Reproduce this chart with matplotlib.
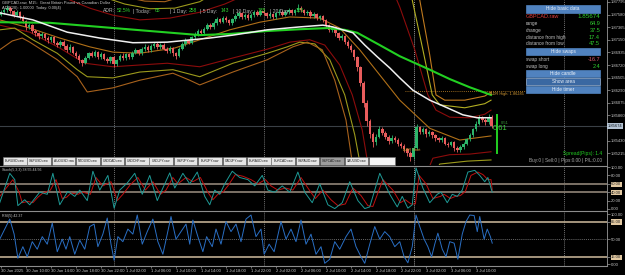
import numpy as np
import matplotlib
matplotlib.use("Agg")
import matplotlib.pyplot as plt
from matplotlib.patches import Rectangle
from matplotlib.lines import Line2D

W, H = 625, 275
plt.rcParams['font.family'] = ['Liberation Sans', 'DejaVu Sans']

# ---------------- data ----------------
# time axis: hours counted from 30 Jun 2025 00:00, bars of 30 minutes from 06:00
first_hour = 6.0
bar_hours = 0.5
first_open = 1.8758
close = [1.8762,1.8766,1.8770,1.8764,1.8758,1.8762,1.8754,1.8747,1.8736,1.8740,
         1.8730,1.8726,1.8721,1.8725,1.8718,1.8714,1.8719,1.8710,1.8706,1.8712,
         1.8704,1.8698,1.8703,1.8693,1.8688,1.8680,1.8676,1.8684,1.8692,1.8688,
         1.8694,1.8686,1.8690,1.8683,1.8679,1.8685,1.8674,1.8680,1.8688,1.8684,
         1.8690,1.8686,1.8693,1.8697,1.8692,1.8699,1.8703,1.8698,1.8704,1.8708,
         1.8702,1.8706,1.8700,1.8696,1.8701,1.8692,1.8688,1.8700,1.8708,1.8714,
         1.8710,1.8719,1.8724,1.8730,1.8726,1.8734,1.8740,1.8736,1.8744,1.8750,
         1.8746,1.8753,1.8749,1.8744,1.8750,1.8756,1.8760,1.8754,1.8758,1.8752,
         1.8757,1.8762,1.8758,1.8764,1.8760,1.8755,1.8759,1.8754,1.8760,1.8763,
         1.8758,1.8762,1.8766,1.8761,1.8765,1.8770,1.8766,1.8760,1.8763,1.8756,
         1.8759,1.8752,1.8755,1.8748,1.8740,1.8732,1.8736,1.8726,1.8718,1.8722,
         1.8712,1.8705,1.8698,1.8686,1.8668,1.8642,1.8608,1.8576,1.8555,1.8540,
         1.8550,1.8562,1.8556,1.8550,1.8542,1.8548,1.8544,1.8538,1.8534,1.8528,
         1.8522,1.8515,1.8530,1.8566,1.8558,1.8562,1.8554,1.8558,1.8552,1.8547,
         1.8544,1.8548,1.8538,1.8536,1.8540,1.8530,1.8527,1.8532,1.8538,1.8545,
         1.8553,1.8562,1.8572,1.8582,1.8578,1.8574,1.8584,1.85674]
high = [1.8766,1.8769,1.8774,1.8773,1.8766,1.8765,1.8764,1.8757,1.8749,1.8743,
        1.8742,1.8733,1.8729,1.8728,1.8727,1.8721,1.8722,1.8721,1.8713,1.8715,
        1.8714,1.8707,1.8707,1.8705,1.8696,1.8690,1.8683,1.8687,1.8695,1.8696,
        1.8698,1.8696,1.8694,1.8692,1.8686,1.8688,1.8687,1.8683,1.8691,1.8692,
        1.8693,1.8693,1.8696,1.8701,1.8700,1.8702,1.8707,1.8706,1.8707,1.8712,
        1.8711,1.8709,1.8709,1.8703,1.8704,1.8703,1.8695,1.8703,1.8711,1.8718,
        1.8717,1.8722,1.8728,1.8733,1.8734,1.8737,1.8744,1.8743,1.8747,1.8754,
        1.8753,1.8756,1.8756,1.8751,1.8753,1.8759,1.8764,1.8762,1.8761,1.8760,
        1.8760,1.8766,1.8765,1.8768,1.8767,1.8762,1.8762,1.8761,1.8763,1.8767,
        1.8765,1.8765,1.8770,1.8768,1.8768,1.8776,1.8773,1.8768,1.8766,1.8765,
        1.8762,1.8761,1.8758,1.8757,1.8750,1.8742,1.8739,1.8738,1.8728,1.8725,
        1.8724,1.8714,1.8707,1.8700,1.8688,1.8670,1.8644,1.8612,1.8580,1.8558,
        1.8554,1.8568,1.8566,1.8560,1.8553,1.8552,1.8551,1.8547,1.8541,1.8537,
        1.8531,1.8525,1.8534,1.8572,1.8568,1.8566,1.8564,1.8561,1.8560,1.8555,
        1.8550,1.8551,1.8550,1.8541,1.8543,1.8542,1.8533,1.8535,1.8541,1.8548,
        1.8556,1.8565,1.8576,1.8586,1.8585,1.8581,1.8588,1.8586]
low = [1.8755,1.8759,1.8763,1.8761,1.8754,1.8755,1.8750,1.8744,1.8732,1.8733,
       1.8727,1.8722,1.8717,1.8718,1.8715,1.8710,1.8711,1.8707,1.8702,1.8703,
       1.8700,1.8694,1.8695,1.8690,1.8684,1.8676,1.8670,1.8673,1.8682,1.8685,
       1.8685,1.8683,1.8683,1.8680,1.8675,1.8676,1.8668,1.8671,1.8678,1.8681,
       1.8681,1.8683,1.8683,1.8690,1.8689,1.8689,1.8696,1.8695,1.8695,1.8701,
       1.8699,1.8699,1.8697,1.8692,1.8693,1.8688,1.8682,1.8685,1.8697,1.8705,
       1.8707,1.8707,1.8716,1.8721,1.8723,1.8723,1.8731,1.8733,1.8733,1.8741,
       1.8743,1.8743,1.8746,1.8740,1.8741,1.8747,1.8753,1.8751,1.8751,1.8749,
       1.8749,1.8754,1.8755,1.8755,1.8757,1.8752,1.8752,1.8751,1.8751,1.8757,
       1.8755,1.8755,1.8759,1.8758,1.8758,1.8762,1.8763,1.8757,1.8757,1.8753,
       1.8753,1.8749,1.8749,1.8745,1.8736,1.8728,1.8729,1.8722,1.8714,1.8715,
       1.8708,1.8701,1.8694,1.8681,1.8662,1.8636,1.8600,1.8568,1.8548,1.8532,
       1.8536,1.8547,1.8552,1.8546,1.8538,1.8539,1.8540,1.8534,1.8530,1.8524,
       1.8517,1.8508,1.8512,1.8528,1.8554,1.8555,1.8550,1.8551,1.8548,1.8543,
       1.8540,1.8541,1.8535,1.8532,1.8533,1.8526,1.8523,1.8524,1.8529,1.8535,
       1.8542,1.8550,1.8560,1.8569,1.8575,1.8570,1.8571,1.8564]
current_price = 1.85674

white_t = [5.8,11.1,16.6,21.8,27.1,32.6,39.4,43.1,48.6,53.8,57.5,59.1,62.3,64.2,66.2,68.2,69.8,71.9,74.6,77.4,79.9,82.2,84.4]
white_p = [1.8761,1.8749,1.8728,1.8718,1.8710,1.8711,1.8718,1.8723,1.8732,1.8737,1.8740,1.8737,1.8727,1.8706,1.8686,1.8667,1.8650,1.8629,1.8612,1.8599,1.8587,1.8582,1.8582]
green_t = [5.8,13.8,21.8,29.8,37.8,42.6,48.6,53.8,58.2,61.0,63.0,66.6,69.8,74.6,77.8,81.0,84.4]
green_p = [1.8745,1.8744,1.8737,1.8730,1.8723,1.8725,1.8730,1.8733,1.8735,1.8732,1.8727,1.8706,1.8687,1.8664,1.8648,1.8634,1.8621]
mid_t = [5.8,10.6,15.4,20.2,23.9,28.2,33.8,37.8,42.6,47.4,52.2,57.0,60.2,63.4,66.6,69.8,74.6,79.4,84.4]
mid_p = [1.8749,1.8735,1.8718,1.8703,1.8694,1.8692,1.8701,1.8715,1.8732,1.8745,1.8754,1.8752,1.8735,1.8698,1.8655,1.8612,1.8564,1.8544,1.8551]

red_low_a_t = [5.8,10.6,15.4,19.4,23.9,28.2,32.6,37.8,43.1,48.6,52.2,55.4,57.8,60.2,62.2,63.8,65.0]
red_low_a_p = [1.8740,1.8728,1.8701,1.8675,1.8669,1.8672,1.8675,1.8669,1.8684,1.8699,1.8711,1.8715,1.8706,1.8672,1.8621,1.8561,1.8484]
red_low_b_t = [73.8,75.1,77.8,81.0,84.4]
red_low_b_p = [1.8479,1.8513,1.8519,1.8520,1.8524]
olive_low_a_t = [5.8,8.2,11.1,15.0,18.2,19.8,23.9,28.2,33.5,37.8,43.1,48.6,51.8,53.8,56.2,58.6,61.0,62.6,63.8]
olive_low_a_p = [1.8732,1.8735,1.8715,1.8692,1.8664,1.8652,1.8650,1.8660,1.8664,1.8652,1.8675,1.8692,1.8703,1.8711,1.8708,1.8681,1.8621,1.8553,1.8484]
olive_low_b_t = [75.0,76.2,80.6,84.4]
olive_low_b_p = [1.8479,1.8503,1.8508,1.8510]
orange_low_t = [5.8,7.8,9.4,10.6,15.0,18.2,19.8,23.9,28.2,33.5,36.2,37.8,43.1,48.6,52.7,55.0,57.4,59.4,61.2,62.5]
orange_low_p = [1.8698,1.8713,1.8718,1.8711,1.8681,1.8652,1.8626,1.8633,1.8646,1.8658,1.8646,1.8638,1.8660,1.8681,1.8703,1.8711,1.8698,1.8646,1.8578,1.8484]

red_up_a_t = [15.4,20.2,23.9,28.2,33.0,37.8,41.8,45.0]
red_up_a_p = [1.8790,1.8769,1.8757,1.8749,1.8752,1.8762,1.8776,1.8791]
red_up_b_t = [69.0,69.8,72.2,74.3,75.6,77.8,81.0,83.4,84.4]
red_up_b_p = [1.8791,1.8771,1.8698,1.8621,1.8595,1.8583,1.8582,1.8588,1.8595]
olive_up_a_t = [21.8,25.8,29.8,33.8,37.8,39.4]
olive_up_a_p = [1.8790,1.8776,1.8768,1.8769,1.8780,1.8790]
olive_up_b_t = [71.4,71.8,73.5,75.0,76.2,80.2,83.4,84.4]
olive_up_b_p = [1.8791,1.8783,1.8698,1.8621,1.8604,1.8599,1.8606,1.8612]
orange_up_a_t = [25.0,29.0,32.2,35.4]
orange_up_a_p = [1.8790,1.8781,1.8780,1.8790]
orange_up_b_t = [72.7,73.0,74.6,75.6,77.0,80.2,83.4,84.4]
orange_up_b_p = [1.8791,1.8783,1.8689,1.8621,1.8612,1.8612,1.8619,1.8626]

adr_high = 1.86285
adr_line_t = [70.6, 89.8]
timer_bar_t = 85.4
timer_bar_p = [1.8522, 1.8587]

stoch_t = [5.8,7.4,8.2,8.7,9.8,10.6,11.4,12.2,13.4,14.3,15.4,16.0,16.7,17.8,18.6,19.8,20.7,21.8,23.1,24.1,
           25.0,26.2,27.4,28.6,29.8,31.0,31.9,33.0,33.8,35.1,36.2,37.4,38.6,39.4,40.2,41.0,41.8,43.0,44.2,45.5,
           46.6,47.8,48.7,49.8,51.0,52.2,53.5,54.6,55.8,57.0,58.3,59.4,60.6,61.8,63.1,64.2,65.0,66.6,68.2,69.4,
           70.2,71.1,71.8,72.4,73.5,74.6,75.8,76.4,77.4,78.2,79.0,79.8,80.7,81.8,82.6,83.4,83.9,84.6]
stoch_k = [15,85,70,8,22,10,25,40,35,85,10,25,42,30,45,20,90,45,80,2,
           45,62,85,35,80,20,50,86,50,85,60,88,30,10,45,35,60,90,75,70,
           55,80,45,40,55,40,88,40,15,60,10,1,15,65,20,1,5,85,35,5,
           30,2,10,98,50,15,35,40,15,35,30,45,88,92,80,65,75,40]
sig_t = [5.8,7.9,8.9,9.4,10.3,11.1,11.9,12.7,13.9,14.8,15.8,16.5,17.2,18.3,19.1,20.3,21.2,22.3,23.6,24.6,
         25.5,26.7,27.9,29.1,30.3,31.5,32.4,33.5,34.3,35.6,36.7,37.9,39.1,39.9,40.7,41.5,42.3,43.5,44.7,46.0,
         47.1,48.3,49.2,50.3,51.5,52.7,54.0,55.1,56.3,57.5,58.8,59.9,61.1,62.3,63.6,64.7,65.5,67.1,68.7,69.9,
         70.7,71.6,72.3,72.9,74.0,75.1,76.3,76.9,77.9,78.7,79.5,80.3,81.2,82.3,83.1,83.9,84.4,84.6]
sig_d = [30,70,40,15,18,15,28,38,45,70,25,28,38,35,40,35,75,55,65,20,
         35,58,75,45,65,35,45,75,60,75,65,75,40,22,35,40,55,82,78,70,
         60,70,55,45,50,45,75,50,25,45,22,8,12,50,32,8,6,70,45,15,
         22,12,12,80,60,25,30,35,25,30,32,42,80,88,82,70,70,45]
rsi_t = [5.8,6.6,7.4,8.1,8.7,9.5,10.2,11.0,11.8,12.6,13.4,14.2,15.0,15.8,16.4,17.0,17.8,18.6,19.4,20.2,
         20.9,21.5,22.3,23.0,23.6,24.1,24.7,25.5,26.3,27.1,27.8,28.6,29.4,30.3,31.1,31.9,32.6,33.2,34.0,34.8,
         35.6,36.2,36.7,37.5,38.3,38.9,39.8,40.4,41.2,42.0,42.8,43.6,44.4,45.2,46.0,46.8,47.6,48.1,48.9,49.7,
         50.8,51.6,52.4,53.2,54.0,54.8,55.6,56.4,57.2,57.8,58.6,59.4,60.2,61.2,62.0,62.8,63.6,64.2,65.0,65.8,
         66.6,67.4,68.2,69.0,69.8,70.5,71.1,71.8,72.4,73.0,73.7,74.3,74.9,75.4,75.9,76.6,77.2,77.8,78.5,79.1,
         79.8,80.4,81.0,81.7,82.2,82.6,83.3,83.8,84.3,84.6]
rsi_v = [50,70,90,60,12,35,15,45,30,55,40,82,25,50,30,55,20,48,30,75,
         80,35,60,92,40,8,55,45,70,60,98,40,65,90,45,20,60,95,50,65,
         80,40,88,55,25,55,35,70,40,85,65,80,45,90,98,55,70,20,40,25,
         85,50,70,45,88,40,60,20,35,2,10,45,30,55,70,35,15,2,40,75,
         50,65,55,35,45,15,3,35,98,75,50,35,15,40,62,30,15,45,42,10,
         60,85,98,97,65,95,50,70,55,42]

day_separators = [24, 48, 72, 96]
price_ticks = [1.87795,1.87580,1.87365,1.87150,1.86935,1.86720,1.86505,1.86290,1.86075,1.85860,1.85430,1.85215]
stoch_ticks = [100, 80, 60, 40, 20, 0]
stoch_levels = [60, 40]
rsi_ticks = [100, 85, 50, 15, 0]
rsi_levels = [85, 15]
time_ticks = [6,10,14,18,22,26,30,34,38,42,46,50,54,58,62,66,70,74,78,82]
time_labels = ["30 Jun 2025","30 Jun 10:00","30 Jun 14:00","30 Jun 18:00","30 Jun 22:00",
               "1 Jul 02:00","1 Jul 06:00","1 Jul 10:00","1 Jul 14:00","1 Jul 18:00","1 Jul 22:00",
               "2 Jul 02:00","2 Jul 06:00","2 Jul 10:00","2 Jul 14:00","2 Jul 18:00","2 Jul 22:00",
               "3 Jul 02:00","3 Jul 06:00","3 Jul 10:00"]

symbol = "GBPCAD.raw"
bid_text = "1.85674"
info_labels = ["range", "change", "distance from high", "distance from low"]
info_values = ["64.9", "37.5", "17.4", "47.5"]
swap_labels = ["swap short", "swap long"]
swap_values = ["-16.7", "2.4"]
adr_stat_labels = ["ADR:", "| Today:", "| 1 Day:", "| 5 Day:", "| 10 Day:", "| 20 Day:"]
adr_stat_values = ["52.5%", "65", "258", "143", "135", "135"]
tab_names = ["EURUSD.raw","GBPUSD.raw","AUDUSD.raw","NZDUSD.raw","USDCAD.raw","USDCHF.raw","USDJPY.raw",
             "GBPJPY.raw","EURJPY.raw","CADJPY.raw","EURAUD.raw","EURCAD.raw","GBPAUD.raw","GBPCAD.raw","XAUUSD.raw"]

# ---------------- figure ----------------
fig = plt.figure(figsize=(W / 100, H / 100), dpi=100, facecolor='black')
GRID = '#9a9a9a'
LBL = '#c8c8c8'


def fx(x):
    return x / W


def fy(y):
    return 1 - y / H


def add_panel(top, bottom):
    ax = fig.add_axes([0, 1 - bottom / H, 607 / W, (bottom - top) / H])
    ax.set_facecolor('black')
    ax.set_xlim(5.84, 102.96)
    for s in ('left', 'top', 'bottom'):
        ax.spines[s].set_visible(False)
    ax.spines['right'].set_color(GRID)
    ax.spines['right'].set_linewidth(0.6)
    ax.yaxis.tick_right()
    ax.tick_params(axis='y', length=2, width=0.5, color=GRID, labelcolor=LBL, labelsize=3, pad=1)
    ax.tick_params(axis='x', bottom=False, labelbottom=False)
    for d in day_separators:
        sep_col = '#cfcfcf' if d == 72 else '#9a9a9a'
        ax.axvline(d, color=sep_col, lw=0.5, ls=(0, (1.5, 1.5)), zorder=1)
    return ax


main = add_panel(0, 165)
main.set_ylim(1.85014, 1.87829)
stoch = add_panel(166, 210)
stoch.set_ylim(-2.4, 102.4)
rsi = add_panel(211, 266)
rsi.set_ylim(-3.4, 106)

# ---- main chart ----
main.axhline(current_price, color='#3a4046', lw=0.8, zorder=1)
band_w = 0.8
for tt, pp, col in [(red_low_a_t, red_low_a_p, '#8c0c0c'), (red_low_b_t, red_low_b_p, '#8c0c0c'),
                    (olive_low_a_t, olive_low_a_p, '#9c9a1c'), (olive_low_b_t, olive_low_b_p, '#9c9a1c'),
                    (orange_low_t, orange_low_p, '#a8621c'),
                    (red_up_a_t, red_up_a_p, '#8c0c0c'), (red_up_b_t, red_up_b_p, '#8c0c0c'),
                    (olive_up_a_t, olive_up_a_p, '#9c9a1c'), (olive_up_b_t, olive_up_b_p, '#b2ae22'),
                    (orange_up_a_t, orange_up_a_p, '#a8621c'), (orange_up_b_t, orange_up_b_p, '#c07a1e'),
                    (mid_t, mid_p, '#b07018')]:
    main.plot(tt, pp, color=col, lw=band_w, zorder=2)

t = first_hour + bar_hours * np.arange(len(close))
o = np.array([first_open] + close[:-1])
c = np.array(close)
cols = np.where(c >= o, '#2db56a', '#e85c5c')
main.vlines(t, low, high, colors=cols, lw=0.6, zorder=3)
main.bar(t, np.maximum(np.abs(c - o), 0.00004), bottom=np.minimum(o, c), width=0.40,
         color=cols, lw=0, zorder=3)

main.plot(green_t, green_p, color='#22d022', lw=1.5, zorder=4)
main.plot(white_t, white_p, color='#f0f0f0', lw=1.1, zorder=4)

main.plot(adr_line_t, [adr_high, adr_high], color='#c88a28', lw=0.6, ls=(0, (1, 1.5)), zorder=2)
main.plot([timer_bar_t, timer_bar_t], timer_bar_p, color='#22d022', lw=1.4, zorder=5)

main.set_yticks(price_ticks)
main.set_yticklabels(['%.5f' % v for v in price_ticks])

# ---- stochastic ----
for lv in stoch_levels:
    stoch.axhline(lv, color='#857a6e', lw=1.3, zorder=1)
stoch.plot(sig_t, sig_d, color='#c01010', lw=0.7, zorder=3)
stoch.plot(stoch_t, stoch_k, color='#1e9a96', lw=0.7, zorder=4)
stoch.set_yticks(stoch_ticks)
stoch.set_yticklabels(['%.2f' % v for v in stoch_ticks])
for lab, v in zip(stoch.get_yticklabels(), stoch_ticks):
    if v in stoch_levels:
        lab.set_bbox(dict(boxstyle='square,pad=0.15', fc='#e2c9a2', ec='none'))
        lab.set_color('#222222')

# ---- RSI ----
for lv in rsi_levels:
    rsi.axhline(lv, color='#bfae92', lw=1.2, zorder=1)
rsi.axhline(50, color='#8a8a8a', lw=0.5, ls=(0, (1.5, 1.5)), zorder=1)
rsi.plot(rsi_t, rsi_v, color='#2a6fc4', lw=0.7, zorder=3)
rsi.set_yticks(rsi_ticks)
rsi.set_yticklabels(['%.2f' % v for v in rsi_ticks])
for lab, v in zip(rsi.get_yticklabels(), rsi_ticks):
    if v in rsi_levels:
        lab.set_bbox(dict(boxstyle='square,pad=0.15', fc='#e2c9a2', ec='none'))
        lab.set_color('#222222')
rsi.set_xticks(time_ticks)
rsi.set_xticklabels(time_labels, ha='left')
rsi.tick_params(axis='x', bottom=True, labelbottom=True, length=1.5, width=0.5, color=GRID,
                labelcolor=LBL, labelsize=3, pad=1)

# panel frame lines
for yy in (165.5, 210.5, 265.5):
    fig.add_artist(Line2D([0, fx(607)], [fy(yy), fy(yy)], color='#8c8c8c', lw=0.8,
                          transform=fig.transFigure))

# ---------------- texts ----------------
def T(x, y, s, **kw):
    kw.setdefault('va', 'center')
    kw.setdefault('fontsize', 3)
    kw.setdefault('color', LBL)
    return fig.text(fx(x), fy(y), s, **kw)


T(2, 3, "GBPCAD.raw, M15:  Great Britain Pound vs Canadian Dollar", fontsize=2.9)
T(2, 8.5, "ADR(20): 1.00000  Today: 0.00(4)", fontsize=2.9)

stat_x_lab = [103, 133, 170, 200, 233, 270]
stat_x_val = [117, 155, 189, 221, 258, 296]
for xl, xv, lab, val in zip(stat_x_lab, stat_x_val, adr_stat_labels, adr_stat_values):
    T(xl, 11, lab, fontsize=3.6, color='#b8b8b8')
    T(xv, 11, val, fontsize=3.6, color='#2fd02f')

T(2, 170, "Stoch(5,3,3) 38.55 44.56", fontsize=2.6)
T(2, 215.5, "RSI(5) 42.37", fontsize=2.6)

T(403, 150, "ADR Start", fontsize=2.8, color='#d49a34')
T(490, 94.5, "ADR High: 1.86285", fontsize=2.8, color='#d49a34')
T(501, 123, "0:51", fontsize=3, color='#3a9a3a')
T(493, 128.5, "0.61", fontsize=5.5, color='#3ccf3c')

T(602, 154, "Spread(Pips): 1.4", fontsize=3.6, color='#22cc22', ha='right')
T(602, 160.5, "Buy:0 | Sell:0 | Pips:0.00 | P/L:0.00", fontsize=3.4, color='#a8a8a8', ha='right')

# current price box on the axis
T(608, 126, bid_text, fontsize=3, color='#101820',
  bbox=dict(boxstyle='square,pad=0.2', fc='#b4c3d3', ec='none'))

# info panel
def button(y0, y1, label, fc='#5082bf', ec='#5082bf'):
    fig.add_artist(Rectangle((fx(526), fy(y1)), (600 - 526) / W, (y1 - y0) / H,
                             transform=fig.transFigure, fc=fc, ec=ec, lw=0.5))
    T(563, (y0 + y1) / 2, label, fontsize=3.4, color='#eaf0f8', ha='center')


button(5, 12.7, "Hide basic data")
T(526, 16, symbol, fontsize=4, color='#e03c3c')
T(600, 16, bid_text, fontsize=4.5, color='#2fd02f', ha='right')
for yy, lab, val in zip([23.7, 30.3, 37.3, 43.7], info_labels, info_values):
    T(526, yy, lab, fontsize=3.4, color='#c0c0c0')
    T(600, yy, val, fontsize=4, color='#2fd02f', ha='right')
button(48.3, 55.3, "Hide swaps")
T(526, 59.5, swap_labels[0], fontsize=3.4, color='#c0c0c0')
T(600, 59.5, swap_values[0], fontsize=4, color='#e05a6e', ha='right')
T(526, 66.3, swap_labels[1], fontsize=3.4, color='#c0c0c0')
T(600, 66.3, swap_values[1], fontsize=4, color='#2fd02f', ha='right')
button(70, 76.7, "Hide candle")
button(77.9, 85.2, "Show area", fc='#3a68a2', ec='#9bb8dc')
button(86, 93.3, "Hide timer")

# symbol tabs
x0 = 3.0
tw = 24.4
for i, name in enumerate(tab_names):
    fc = '#9c9c9c' if name == symbol else '#e6e6e6'
    fig.add_artist(Rectangle((fx(x0 + i * tw), fy(164.5)), (tw - 0.8) / W, 7.5 / H,
                             transform=fig.transFigure, fc=fc, ec='#707070', lw=0.4))
    T(x0 + i * tw + (tw - 0.8) / 2, 160.8, name, fontsize=2.3, color='#202020', ha='center')
xe = x0 + len(tab_names) * tw
fig.add_artist(Rectangle((fx(xe), fy(164.5)), (395 - xe) / W, 7.5 / H,
                         transform=fig.transFigure, fc='#f4f4f4', ec='#707070', lw=0.4))

fig.savefig('out.png', dpi=100, facecolor='black')
